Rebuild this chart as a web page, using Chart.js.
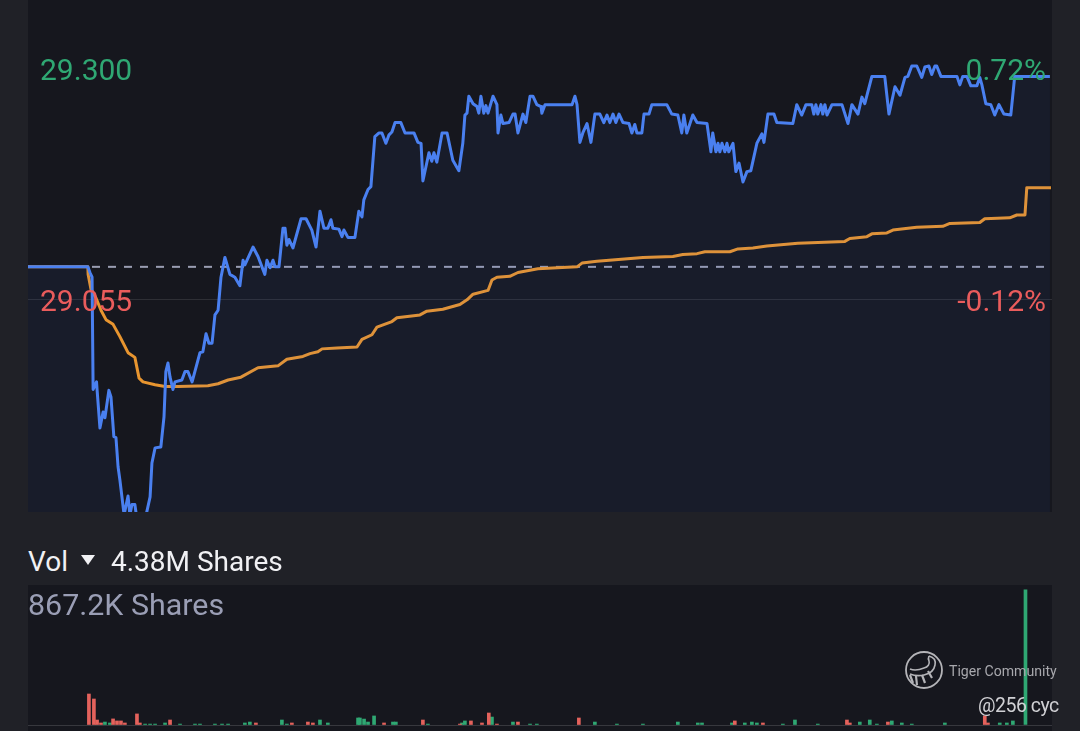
<!DOCTYPE html>
<html>
<head>
<meta charset="utf-8">
<script src="https://cdn.jsdelivr.net/npm/chart.js@4"></script>
<style>
html,body{margin:0;padding:0;width:1080px;height:731px;overflow:hidden;background:#202127;font-family:Roboto,sans-serif}
canvas{position:absolute;display:block}
#c1{left:28px;top:0;background:#16171e}
#c2{left:28px;top:585px;background:#16171e}
.t{position:absolute;white-space:nowrap;line-height:1}
#vol{left:28px;top:548px;font-size:28px;color:#f1f1f4}
#tri{position:absolute;left:81px;top:555px;width:0;height:0;border-left:7.5px solid transparent;border-right:7.5px solid transparent;border-top:10px solid #f1f1f4}
#shares{left:111px;top:548px;font-size:28px;color:#f1f1f4}
#max{left:28px;top:590px;font-size:30.4px;color:#9a9eb5}
#tiger{left:949px;top:664px;font-size:14.1px;color:#a8a8ad}
#cyc{left:978px;top:696px;font-size:19.5px;letter-spacing:-0.5px;color:#d0d0d4}
#logo{position:absolute;left:904px;top:650px}
</style>
</head>
<body>
<canvas id="c1" width="1024" height="512"></canvas>
<canvas id="c2" width="1024" height="146"></canvas>
<div class="t" id="vol">Vol</div><div id="tri"></div>
<div class="t" id="shares">4.38M Shares</div>
<div class="t" id="max">867.2K Shares</div>
<svg id="logo" width="40" height="40" viewBox="0 0 40 40" fill="none" stroke="#b4b4b8">
<circle cx="20" cy="20" r="18" stroke-width="1.8"/>
<path d="M25 6c4 1 7 4 6 9-1 6-6 9-11 10-5 1-9 1-14-1" stroke-width="1.6"/>
<path d="M25 6c-1 2-1 3 0 5 1 3-1 6-5 7-5 2-9 3-14 1" stroke-width="1.6"/>
<path d="M6 25l3 8M12 26l1 9M18 25l3 8M24 21l4 7" stroke-width="2.2"/>
</svg>
<div class="t" id="tiger">Tiger Community</div>
<div class="t" id="cyc">@256 cyc</div>
<script>
const priceTimes=[0,22.8,23.6,24.4,24.8,26.1,26.3,27.4,28.6,29.3,30.8,31.6,32.7,33.5,34.3,35,36.6,38.1,38.8,39.6,40.7,41.5,44.6,46.5,47.2,48.4,50.6,51.8,52.5,53.3,54.1,55.2,56,58.6,59.8,60.9,62.5,65.5,66.6,67.8,68.9,70.1,71.2,72.4,73.5,75,76.9,78.8,80.7,81.9,82.6,85.7,87.6,90.2,91,92.2,93.3,94.1,95.6,97.1,97.9,98.6,99.4,100.9,104,105.9,108.1,109.7,111.2,112.7,114.2,115.4,116.1,118.4,119.6,120.3,121.9,124.5,126,127.2,127.9,129.5,130.6,132.1,133.7,134.8,136.3,137.5,138.6,139.8,142,143.6,147,148.5,149.7,150.4,152.7,153.8,154.6,155.7,157.7,159.6,161.8,164.1,165.6,166.4,167.2,167.9,169.5,171,171.7,172.5,173.6,174.4,175.2,177.1,178.6,179,180.1,180.9,183.2,184.7,185.5,186.6,188.5,189.6,191.2,192.3,193.8,195.4,195.7,196.9,207.2,208.3,209.1,210.2,211.3,212.9,213.2,214.4,215.9,217.8,219.3,220.5,221.6,222.8,223.9,225.1,226.6,228.9,230,231.1,231.9,233.8,234.6,236.5,237.6,243.3,245.2,247.5,249,249.8,250.9,253.2,254.8,258.6,260.1,260.8,262,262.8,263.5,264.3,265.4,266.2,266.9,268.5,269.6,270.8,272.3,273.8,275.3,277.6,279.5,280.3,281.8,284.1,285.2,291.3,292.8,294.7,296.3,298.5,299.3,300.1,300.8,302,302.7,303.5,304.3,306.2,310,312.3,313.8,316.1,317.6,318.7,321.4,326.3,327.9,330.2,332.1,334,335.1,336.6,338.5,340.4,341.6,343.1,344.2,345.4,346.1,347.7,353.8,354.9,356,357.6,359.1,361.4,362.5,363.3,364.8,366.7,368.2,369.8,371.7,374.3,375.8,389.2];
const priceValues=[29.09,29.09,29.084,29.079,28.96,28.968,28.96,28.919,28.936,28.93,28.959,28.952,28.91,28.909,28.878,28.864,28.827,28.847,28.827,28.838,28.838,28.822,28.822,28.846,28.882,28.898,28.899,28.931,28.979,28.988,28.973,28.96,28.968,28.97,28.979,28.979,28.968,28.999,29,29.019,29.009,29.009,29.039,29.044,29.079,29.1,29.082,29.079,29.07,29.097,29.092,29.111,29.101,29.082,29.097,29.089,29.097,29.09,29.09,29.131,29.131,29.113,29.119,29.11,29.141,29.141,29.129,29.111,29.149,29.131,29.131,29.14,29.131,29.13,29.122,29.129,29.121,29.121,29.149,29.143,29.161,29.172,29.175,29.228,29.232,29.232,29.221,29.23,29.233,29.243,29.243,29.232,29.232,29.222,29.221,29.181,29.211,29.202,29.211,29.201,29.232,29.232,29.203,29.192,29.221,29.251,29.253,29.271,29.263,29.26,29.253,29.271,29.253,29.261,29.253,29.271,29.262,29.232,29.251,29.242,29.243,29.252,29.252,29.232,29.252,29.243,29.271,29.271,29.262,29.26,29.253,29.262,29.262,29.271,29.262,29.222,29.232,29.242,29.238,29.222,29.252,29.252,29.243,29.251,29.243,29.252,29.243,29.252,29.243,29.242,29.232,29.241,29.232,29.232,29.252,29.252,29.262,29.262,29.252,29.251,29.232,29.251,29.232,29.251,29.243,29.242,29.212,29.232,29.212,29.221,29.212,29.221,29.212,29.221,29.212,29.221,29.191,29.2,29.18,29.191,29.192,29.221,29.231,29.222,29.252,29.252,29.243,29.242,29.262,29.251,29.262,29.262,29.252,29.262,29.252,29.262,29.252,29.262,29.251,29.262,29.262,29.242,29.262,29.252,29.27,29.263,29.292,29.292,29.252,29.281,29.272,29.291,29.292,29.303,29.303,29.291,29.302,29.303,29.294,29.303,29.303,29.292,29.292,29.283,29.292,29.292,29.282,29.282,29.291,29.283,29.263,29.262,29.251,29.262,29.252,29.251,29.292,29.292];
const avgTimes=[0,22.8,22.9,24,25.9,27.8,29.7,32.4,35,38.1,40.7,42.3,43.8,48.4,52.2,57.1,68.5,72.4,76.2,81.1,87.6,95.2,98.6,104.7,107.4,110.4,112,117.7,125.3,127.2,131,132.9,138.6,140.5,149.3,151.9,158,164.5,167.2,169.5,175.2,176.7,178.6,183.5,186.6,194.2,209.1,211,216.7,234.2,245.6,249.4,254.8,257.8,267.3,270.4,276.1,281.4,293.2,311.1,313,319.5,321.4,327.1,329.4,338.5,348.4,351.1,362.5,364.4,373.9,376.6,379.7,380.4,389.6];
const avgValues=[29.09,29.09,29.082,29.066,29.057,29.044,29.034,29.029,29.016,28.999,28.994,28.972,28.968,28.965,28.963,28.963,28.964,28.966,28.97,28.973,28.983,28.985,28.992,28.995,28.998,29,29.003,29.004,29.005,29.013,29.018,29.026,29.032,29.036,29.039,29.043,29.045,29.05,29.055,29.061,29.065,29.076,29.079,29.08,29.084,29.088,29.09,29.094,29.096,29.1,29.101,29.103,29.104,29.106,29.106,29.109,29.11,29.112,29.115,29.117,29.12,29.122,29.125,29.126,29.129,29.132,29.133,29.136,29.137,29.141,29.142,29.145,29.145,29.174,29.174];
const prevClose=29.09;
const priceTicks=[29.3,29.055];
const priceTickLabels=['29.300','29.055'];
const pctTickLabels=['0.72%','-0.12%'];
const volDownTimes=[23.2,25.1,26.3,27.8,32.4,33.9,35.4,36.9,41.5,42.6,54.1,86.8,100.5,106.6,108.5,135.6,150.4,164.5,168.7,172.9,175.5,178.6,186.6,209.8,269.2,279.9,311.9,313,327.5,364.4,365.6];
const volDownValues=[199,167,32,13,39,26,26,13,71,13,32,13,13,19,13,13,32,6,26,13,77,6,19,45,26,13,32,13,19,58,13];
const volUpTimes=[29.3,31.2,44.6,46.5,48.4,52.2,57.9,63.6,65.5,71.2,73.9,76.2,82.6,84.5,96.7,98.6,111.2,114.2,125.7,126.4,128,129.5,131.8,139,140.1,152.3,165.3,166.4,176.7,184.7,191.2,193.8,215.9,224.3,234.2,247.5,255.1,256.7,268.1,273,275.7,277.6,287.5,292.1,300.8,316.8,320.6,323.3,329,332.8,336.6,349.2,370.1,372.8,375.1,379.9];
const volUpValues=[19,13,6,6,6,13,6,6,6,6,6,6,13,19,32,6,32,13,45,45,38,19,58,19,19,6,13,26,51,19,6,6,19,6,6,19,13,13,13,13,19,13,6,32,6,19,32,6,26,13,6,13,13,13,26,867.2];

const pts=(xs,ys)=>xs.map((x,i)=>({x,y:ys[i]}));
const G='#2fa873',R='#e4625c';
const flush=a=>{a.width=0;a.paddingTop=0;a.paddingBottom=0;a.paddingLeft=0;a.paddingRight=0};
new Chart(document.getElementById('c1'),{
  type:'line',
  data:{datasets:[
    {data:pts(priceTimes,priceValues),borderColor:'#4a80f0',borderWidth:3,borderJoinStyle:'round',pointRadius:0,tension:0,fill:'start',backgroundColor:'rgba(60,110,255,0.055)',yAxisID:'y',order:1},
    {data:pts(avgTimes,avgValues),borderColor:'#e8952f',borderWidth:3,borderJoinStyle:'round',pointRadius:0,tension:0,fill:false,yAxisID:'y',order:2},
    {data:pts([0,390],[prevClose,prevClose]),borderColor:'#9a9db2',borderWidth:2,borderDash:[8,8],pointRadius:0,fill:false,yAxisID:'y',order:3}
  ]},
  options:{
    responsive:false,animation:false,devicePixelRatio:1,
    layout:{padding:0},
    plugins:{legend:{display:false},tooltip:{enabled:false}},
    scales:{
      x:{type:'linear',min:0,max:390,display:false},
      y:{type:'linear',position:'left',min:28.83,max:29.373,afterFit:flush,
        border:{display:false},
        grid:{drawTicks:false,color:c=>c.tick&&c.tick.value===29.055?'rgba(255,255,255,0.1)':'rgba(0,0,0,0)'},
        afterBuildTicks:a=>{a.ticks=priceTicks.map(value=>({value}))},
        ticks:{mirror:true,padding:12,labelOffset:4,z:1,autoSkip:false,maxRotation:0,font:{family:'Roboto',size:30},
          color:c=>c.tick.value===29.3?'#2fa873':'#ea5c5c',
          callback:v=>priceTickLabels[priceTicks.indexOf(v)]}},
      yR:{type:'linear',position:'right',min:28.83,max:29.373,afterFit:flush,
        border:{display:false},grid:{display:false,drawTicks:false},
        afterBuildTicks:a=>{a.ticks=priceTicks.map(value=>({value}))},
        ticks:{mirror:true,padding:-6,labelOffset:4,z:1,autoSkip:false,maxRotation:0,font:{family:'Roboto',size:30},
          color:c=>c.tick.value===29.3?'#2fa873':'#ea5c5c',
          callback:v=>pctTickLabels[priceTicks.indexOf(v)]}}
    }
  }
});
new Chart(document.getElementById('c2'),{
  type:'bar',
  data:{datasets:[
    {data:pts(volDownTimes,volDownValues),backgroundColor:R,barThickness:3,grouped:false},
    {data:pts(volUpTimes,volUpValues),backgroundColor:G,barThickness:3,grouped:false}
  ]},
  options:{
    responsive:false,animation:false,devicePixelRatio:1,
    layout:{padding:{bottom:6}},
    plugins:{legend:{display:false},tooltip:{enabled:false}},
    scales:{
      x:{type:'linear',min:0,max:390,offset:false,display:false},
      y:{min:0,max:899,afterFit:flush,border:{display:false},
        grid:{drawTicks:false,color:c=>c.tick&&c.tick.value===0?'rgba(255,255,255,0.14)':'rgba(0,0,0,0)'},
        afterBuildTicks:a=>{a.ticks=[{value:0}]},
        ticks:{display:false}}
    }
  }
});
</script>
</body>
</html>
